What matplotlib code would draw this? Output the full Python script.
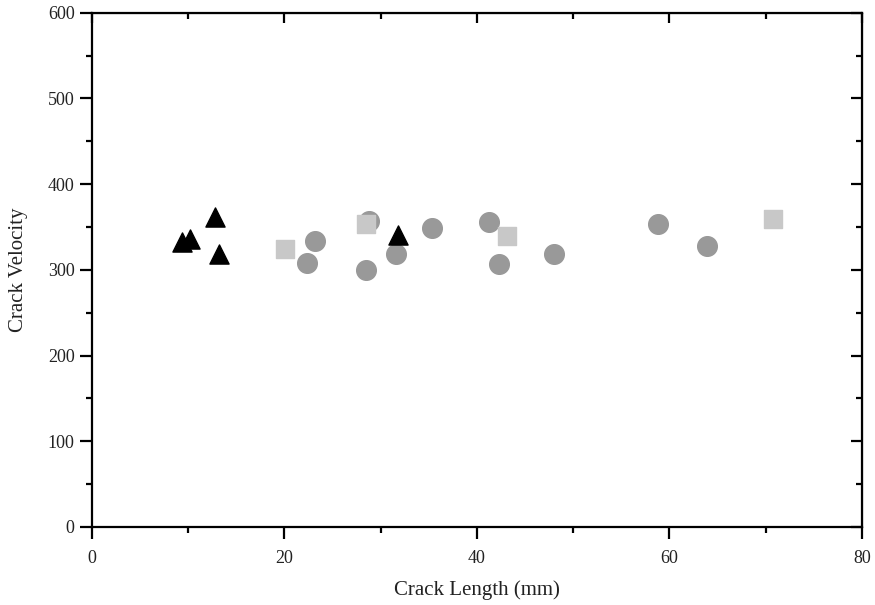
import matplotlib
matplotlib.use("Agg")
import matplotlib.pyplot as plt
from matplotlib.ticker import MultipleLocator

plt.rcParams['font.family'] = ['Liberation Serif', 'DejaVu Serif']

# triangles (black)
tri_x = [9.4, 10.2, 12.8, 13.2, 31.8]
tri_y = [332, 336, 362, 319, 341]

# circles (dark grey)
circ_x = [23.2, 22.3, 28.8, 28.5, 31.6, 35.3, 41.3, 42.3, 48.0, 58.8, 63.9]
circ_y = [334, 308, 357, 300, 319, 349, 356, 307, 319, 353, 328]

# squares (light grey)
sq_x = [20.1, 28.5, 43.1, 70.8]
sq_y = [324, 354, 339, 359]

fig = plt.figure(figsize=(8.75, 6.05), dpi=100)
ax = fig.add_axes([0.105, 0.129, 0.88, 0.85])

ax.scatter(circ_x, circ_y, s=200, marker='o', color='#999999', zorder=3)
ax.scatter(sq_x, sq_y, s=150, marker='s', color='#c8c8c8', zorder=4)
ax.scatter(tri_x, tri_y, s=190, marker='^', color='black', zorder=5)

ax.set_xlim(0, 80)
ax.set_ylim(0, 600)
ax.xaxis.set_major_locator(MultipleLocator(20))
ax.xaxis.set_minor_locator(MultipleLocator(10))
ax.yaxis.set_major_locator(MultipleLocator(100))
ax.yaxis.set_minor_locator(MultipleLocator(50))

for s in ax.spines.values():
    s.set_linewidth(1.6)

ax.tick_params(which='both', direction='out', width=1.6, labelsize=13,
               labelcolor='#222222')
ax.tick_params(which='major', length=8.5)
ax.tick_params(which='minor', length=4.5)
ax.tick_params(axis='x', which='major', pad=8)
ax.tick_params(axis='y', which='major', pad=4)

# inward ticks on top and right
top = ax.secondary_xaxis('top')
top.set_xticks(range(0, 81, 20))
top.xaxis.set_minor_locator(MultipleLocator(10))
top.tick_params(which='both', direction='in', width=1.6, labeltop=False)
top.tick_params(which='major', length=7)
top.tick_params(which='minor', length=4)
right = ax.secondary_yaxis('right')
right.set_yticks(range(0, 601, 100))
right.yaxis.set_minor_locator(MultipleLocator(50))
right.tick_params(which='both', direction='in', width=1.6, labelright=False)
right.tick_params(which='major', length=8)
right.tick_params(which='minor', length=4.5)

ax.set_xlabel('Crack Length (mm)', fontsize=15, labelpad=10, color='#222222')
ax.set_ylabel('Crack Velocity', fontsize=15, labelpad=14, color='#222222')

fig.savefig('out.png', dpi=100)
